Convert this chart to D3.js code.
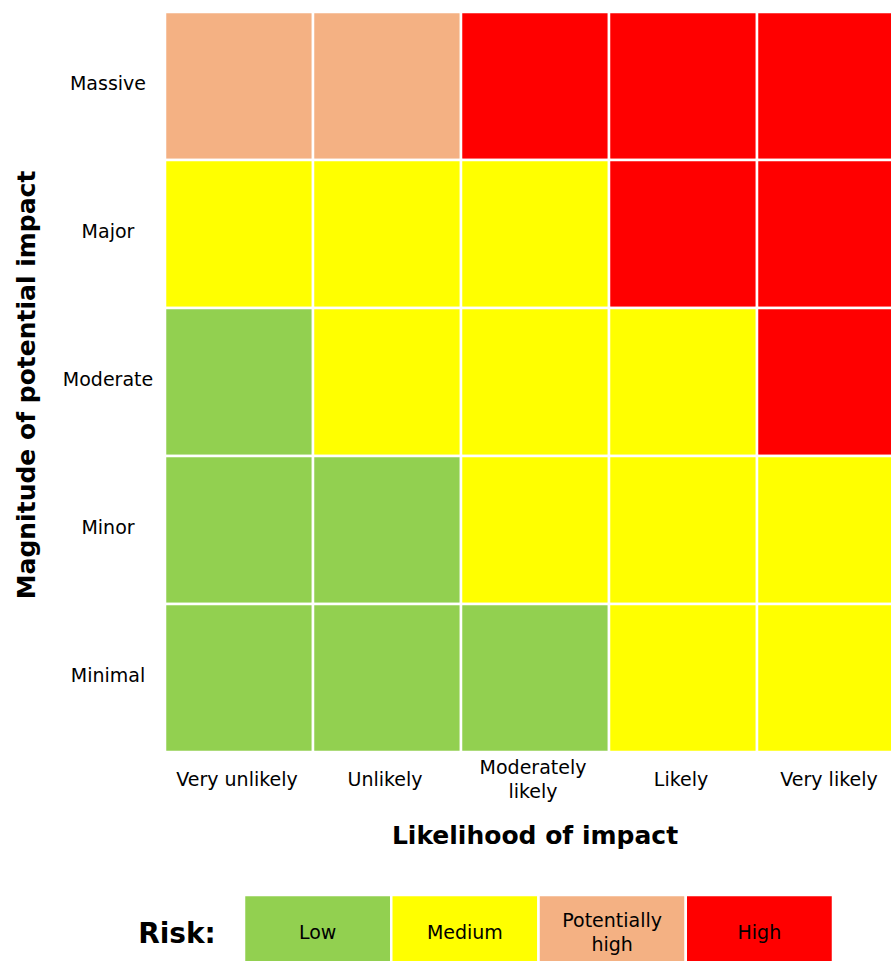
<!DOCTYPE html>
<html>
<head>
<meta charset="utf-8">
<script src="https://cdn.jsdelivr.net/npm/d3@7"></script>
<style>
  body { margin: 0; background: #fff; }
  text { font-family: "DejaVu Sans", sans-serif; fill: #000; }
</style>
</head>
<body>
<svg id="chart"></svg>
<script>
// likelihood categories (x) and impact categories (y, top to bottom)
const likelihood = ["Very unlikely", "Unlikely", "Moderately\nlikely", "Likely", "Very likely"];
const impact = ["Massive", "Major", "Moderate", "Minor", "Minimal"];

// risk level per row (impact) across likelihood columns
const riskMassive  = ["Potentially high", "Potentially high", "High", "High", "High"];
const riskMajor    = ["Medium", "Medium", "Medium", "High", "High"];
const riskModerate = ["Low", "Medium", "Medium", "Medium", "High"];
const riskMinor    = ["Low", "Low", "Medium", "Medium", "Medium"];
const riskMinimal  = ["Low", "Low", "Low", "Medium", "Medium"];

const riskLevels = ["Low", "Medium", "Potentially high", "High"];
const riskLabels = ["Low", "Medium", "Potentially\nhigh", "High"];
const riskColors = ["#92D050", "#FFFF00", "#F4B183", "#FF0000"];

const rows = [riskMassive, riskMajor, riskModerate, riskMinor, riskMinimal];
const cells = [];
rows.forEach((r, i) => r.forEach((risk, j) => cells.push({ impact: impact[i], likelihood: likelihood[j], risk })));

const width = 891, height = 961;
const margin = { top: 12, left: 165, gridW: 740, gridH: 740 };

const svg = d3.select("#chart").attr("width", width).attr("height", height);

const x = d3.scaleBand().domain(likelihood).range([margin.left, margin.left + margin.gridW]);
const y = d3.scaleBand().domain(impact).range([margin.top, margin.top + margin.gridH]);
const color = d3.scaleOrdinal().domain(riskLevels).range(riskColors);

// cells
svg.append("g")
  .selectAll("rect")
  .data(cells)
  .join("rect")
  .attr("x", d => x(d.likelihood))
  .attr("y", d => y(d.impact))
  .attr("width", x.bandwidth())
  .attr("height", y.bandwidth())
  .attr("fill", d => color(d.risk))
  .attr("stroke", "#fff")
  .attr("stroke-width", 2.5);

// multi-line text helper
function multiline(sel, lineH) {
  sel.each(function(d) {
    const t = d3.select(this);
    const lines = t.text().split("\n");
    t.text(null);
    lines.forEach((l, i) => {
      t.append("tspan")
        .attr("x", t.attr("x"))
        .attr("dy", i === 0 ? (-(lines.length - 1) / 2 * lineH) + "px" : lineH + "px")
        .text(l);
    });
  });
}

// x tick labels
svg.append("g")
  .selectAll("text")
  .data(likelihood)
  .join("text")
  .attr("x", d => x(d) + x.bandwidth() / 2 - 2)
  .attr("y", 779)
  .attr("text-anchor", "middle")
  .attr("dominant-baseline", "central")
  .style("font-size", "19px")
  .text(d => d)
  .call(multiline, 24);

// y tick labels
svg.append("g")
  .selectAll("text")
  .data(impact)
  .join("text")
  .attr("x", 108)
  .attr("y", d => y(d) + y.bandwidth() / 2 - 3)
  .attr("text-anchor", "middle")
  .attr("dominant-baseline", "central")
  .style("font-size", "19px")
  .text(d => d);

// axis titles
svg.append("text")
  .attr("x", 535)
  .attr("y", 835)
  .attr("text-anchor", "middle")
  .attr("dominant-baseline", "central")
  .style("font-size", "25px")
  .style("font-weight", "bold")
  .text("Likelihood of impact");

svg.append("text")
  .attr("transform", "translate(26,385) rotate(-90)")
  .attr("text-anchor", "middle")
  .attr("dominant-baseline", "central")
  .style("font-size", "25px")
  .style("font-weight", "bold")
  .text("Magnitude of potential impact");

// legend
const lx = d3.scaleBand().domain(riskLevels).range([244, 833]);
const legend = svg.append("g");
legend.append("text")
  .attr("x", 177)
  .attr("y", 933)
  .attr("text-anchor", "middle")
  .attr("dominant-baseline", "central")
  .style("font-size", "28px")
  .style("font-weight", "bold")
  .text("Risk:");

legend.selectAll("rect")
  .data(riskLevels)
  .join("rect")
  .attr("x", d => lx(d))
  .attr("y", 895)
  .attr("width", lx.bandwidth())
  .attr("height", 76)
  .attr("fill", d => color(d))
  .attr("stroke", "#fff")
  .attr("stroke-width", 2.5);

legend.selectAll("text.lbl")
  .data(riskLevels)
  .join("text")
  .attr("class", "lbl")
  .attr("x", d => lx(d) + lx.bandwidth() / 2)
  .attr("y", 932)
  .attr("text-anchor", "middle")
  .attr("dominant-baseline", "central")
  .style("font-size", "19px")
  .text((d, i) => riskLabels[i])
  .call(multiline, 24);
</script>
</body>
</html>
